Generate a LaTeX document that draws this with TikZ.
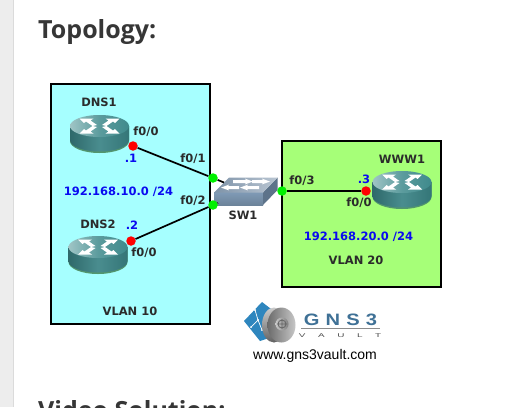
\documentclass[tikz,border=0pt]{standalone}
\usepackage{fontspec}
\setmainfont{DejaVu Sans}
\newfontfamily\titlefont{Open Sans}
\newfontfamily\webfont{Liberation Sans}
\definecolor{lanA}{HTML}{A6FFFF}
\definecolor{lanB}{HTML}{A6FF78}
\definecolor{ink}{HTML}{2B2B2B}
\definecolor{ipblue}{HTML}{0A0AF0}
\definecolor{rtop}{HTML}{3F8A8C}
\definecolor{rside}{HTML}{3A8385}
\definecolor{gnsblue}{HTML}{3F7196}
\definecolor{swfront}{HTML}{7F9AB5}
\definecolor{swside}{HTML}{5D738A}
\definecolor{swtopa}{HTML}{7E93A8}
\definecolor{swtopb}{HTML}{B9C5D2}
\definecolor{portgreen}{HTML}{00F000}
\definecolor{sheet}{HTML}{2E86BE}
\tikzset{
  lan/.style={draw=black,line width=1.4pt},
  lbl/.style={font=\fontsize{11.5}{13}\selectfont\bfseries,text=ink,inner sep=0pt},
  ip/.style={font=\fontsize{11.5}{13}\selectfont\bfseries,text=ipblue,inner sep=0pt},
  reddot/.style={circle,fill=red,minimum size=9.5pt,inner sep=0pt},
  grndot/.style={circle,fill=portgreen,minimum size=9.5pt,inner sep=0pt},
  wire/.style={line width=1.7pt,black},
  titletext/.style={font=\titlefont\bfseries\fontsize{25}{30}\selectfont,text=ink!95!white,inner sep=0pt,anchor=base west},
}
\newcommand{\routershape}[2]{%
  \begin{scope}[shift={(#1,#2)}]
    \fill[black!20!rside!70!lanB] (-29.5,0) -- (-29.5,15) arc[x radius=29.5,y radius=12,start angle=180,end angle=0] -- (29.5,0) -- cycle;
    \shade[left color=rside!80!black,right color=rside!90!black,middle color=rside!92!white] (-29.5,0) -- (-29.5,14) arc[x radius=29.5,y radius=11.5,start angle=180,end angle=0] -- (29.5,0) -- cycle;
    \shade[left color=rtop!50!white,right color=rtop,middle color=rtop!85!white] (0,0) ellipse[x radius=29.5,y radius=11];
    \fill[white] (2.5,-1) -- (9,-5.5) -- (6,-7.5) -- (20,-7.5) -- (15.5,-3) -- (13.5,-4.5) -- (7,0) -- cycle;
    \fill[white] (2.5,1) -- (9,5.5) -- (6,7.5) -- (20,7.5) -- (15.5,3) -- (13.5,4.5) -- (7,0) -- cycle;
    \fill[white] (-2.5,1) -- (-9,5.5) -- (-6,7.5) -- (-20,7.5) -- (-15.5,3) -- (-13.5,4.5) -- (-7,0) -- cycle;
    \fill[white] (-2.5,-1) -- (-9,-5.5) -- (-6,-7.5) -- (-20,-7.5) -- (-15.5,-3) -- (-13.5,-4.5) -- (-7,0) -- cycle;
  \end{scope}}
\begin{document}
\begin{tikzpicture}[x=1pt,y=-1pt]
\useasboundingbox (0,0) rectangle (524,407);
\clip (0,0) rectangle (524,407);
\fill[white] (0,0) rectangle (524,407);
\fill[black!7] (0,0) rectangle (12.5,407);
\draw[black!14,line width=0.6pt] (12.8,0) -- (12.8,407);
\node[titletext] (title) at (38,38) {Topology:};
\node[titletext] (video) at (38,419) {Video Solution:};
% LAN areas
\draw[lan,fill=lanA] (51,84) rectangle (210,324);
\draw[lan,fill=lanB] (282,141) rectangle (441,287);
% routers
\routershape{99.5}{126}
\routershape{98}{247}
\routershape{402}{182}
% switch
\shade[bottom color=swfront!85!black,top color=swfront] (214,192.5) -- (263,192.5) -- (263,205) -- (214,205) -- cycle;
\fill[swside] (263,192.5) -- (277.5,177.5) -- (277.5,190) -- (263,205) -- cycle;
\shade[left color=swtopa,right color=swtopb] (214,192.5) -- (229,177.5) -- (277.5,177.5) -- (263,192.5) -- cycle;
\fill[white] (233,180.2) -- (246,180.2) -- (245,178.6) -- (253,181.6) -- (245,184.4) -- (246,183) -- (233,183) -- cycle;
\fill[white] (252,180.2) -- (263,180.2) -- (262,178.6) -- (270,181.6) -- (262,184.4) -- (263,183) -- (252,183) -- cycle;
\fill[white] (239,186.2) -- (228,186.2) -- (229,184.6) -- (221,187.6) -- (229,190.4) -- (228,189) -- (239,189) -- cycle;
\fill[white] (259,186.2) -- (247,186.2) -- (248,184.6) -- (240,187.6) -- (248,190.4) -- (247,189) -- (259,189) -- cycle;
% ports
\node[reddot] (p1) at (133,146) {};
\node[reddot] (p2) at (131,241) {};
\node[reddot] (p3) at (366,191) {};
\node[grndot] (g1) at (213,178) {};
\node[grndot] (g2) at (213,205) {};
\node[grndot] (g3) at (282,191) {};
\coordinate (s1) at (224,182.5);
\coordinate (s2) at (218,203);
% connectors
\draw[wire] (p1) -- (g1);
\draw[wire] (p2) -- (g2);
\draw[wire] (g3) -- (p3);
\draw[wire] (g1) -- (s1);
\draw[wire] (g2) -- (s2);
% labels
\node[lbl] (n1) at (99,102) {DNS1};
\node[lbl] (n2) at (98,224) {DNS2};
\node[lbl] (n3) at (402,159.5) {WWW1};
\node[lbl] (n4) at (243,215) {SW1};
\node[lbl] (a1) at (146,132) {f0/0};
\node[lbl] (a2) at (193,159) {f0/1};
\node[lbl] (a3) at (193,201) {f0/2};
\node[lbl] (a4) at (144,253) {f0/0};
\node[lbl] (a5) at (302,181) {f0/3};
\node[lbl] (a6) at (359,203) {f0/0};
\node[ip] (b1) at (131,158) {.1};
\node[ip] (b2) at (132,225) {.2};
\node[ip] (b3) at (364,179) {.3};
\node[ip] (c1) at (118.5,191.5) {192.168.10.0 /24};
\node[ip] (c2) at (358.5,236.5) {192.168.20.0 /24};
\node[lbl] (v1) at (130,311) {VLAN 10};
\node[lbl] (v2) at (356,260.5) {VLAN 20};
% logo
\fill[sheet] (244,321) -- (262,302) -- (275,312) -- (275,336) -- (260,341) -- cycle;
\draw[white,line width=0.7pt] (255,310) -- (258,320) -- (251,327) (258,320) -- (262,330);
\fill[white] (255,310) circle (1.2) (258,320) circle (1.2) (251,327) circle (1) (262,330) circle (1);
\shade[top color=black!20,bottom color=black!62] (274,325) ellipse[x radius=12,y radius=17.5];
\shade[left color=black!58,right color=black!22] (281.5,325) ellipse[x radius=14,y radius=17.5];
\shade[left color=black!22,right color=black!50] (282,324) circle (6.5);
\draw[black!60,line width=0.8pt] (282,324) circle (4) (282,319) -- (282,329) (277,324) -- (287,324);
\node[font=\webfont\bfseries\fontsize{16.5}{20}\selectfont,text=gnsblue,inner sep=0pt,anchor=base,xscale=1.22] (gns) at (340.5,325) {G\kern5pt N\kern5pt S\kern5pt 3};
\coordinate (ruleL) at (301,328.5);
\coordinate (ruleR) at (380,328.5);
\draw[black!45,line width=1pt] (ruleL) -- (ruleR);
\node[font=\webfont\fontsize{5.5}{7}\selectfont,text=black!70,inner sep=0pt,anchor=base,xscale=1.8] (vault) at (340,337.5) {V\kern7pt A\kern7pt U\kern7pt L\kern7pt T};
\node[font=\webfont\fontsize{14}{16}\selectfont,text=black,inner sep=0pt] (web) at (315,355.5) {www.gns3vault.com};
\end{tikzpicture}
\end{document}
